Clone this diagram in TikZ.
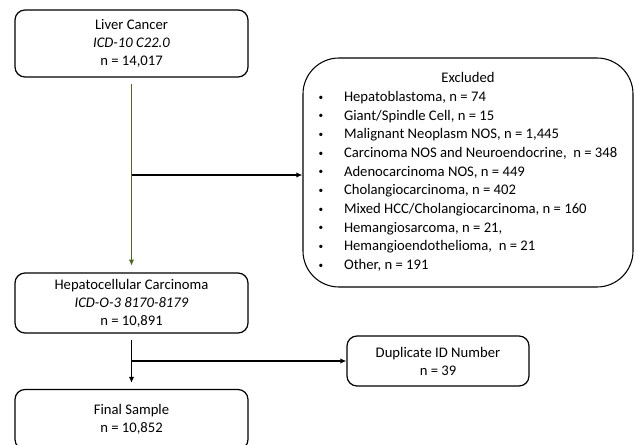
\documentclass[tikz,border=0pt]{standalone}
\usepackage{fontspec}
\setmainfont{Carlito}
\usetikzlibrary{arrows.meta,positioning}
\definecolor{flowGreen}{HTML}{4F6228}
\newcommand{\exclitem}{\makebox[19pt][l]{\raisebox{1pt}{\fontsize{7}{7}\selectfont\textbullet}}}

\begin{document}
\begin{tikzpicture}[x=0.75pt, y=-0.75pt,
    box/.style={rectangle, rounded corners=7.5pt, draw=black, line width=0.9pt, fill=white, minimum width=174.75pt, align=center, inner sep=0pt, font=\fontsize{11}{13.5}\selectfont},
    note/.style={rectangle, rounded corners=27pt, draw=black, line width=0.8pt, fill=white, minimum width=247.5pt, minimum height=171.75pt, inner sep=0pt, font=\fontsize{11}{14}\selectfont},
    flow/.style={-{Latex[length=4.5pt, width=4pt]}, line width=1.1pt, draw=black},
    greenflow/.style={flow, draw=flowGreen, line width=1.1pt}
  ]
  \useasboundingbox (0,0) rectangle (635,445);
  % main column
  \node[box, minimum height=50.25pt] (liver) at (131.5,43.5) {Liver Cancer\\\textit{ICD-10 C22.0}\\n = 14,017};
  \node[box, minimum height=45pt] (hcc) at (131.5,303) {Hepatocellular Carcinoma\\\textit{ICD-O-3 8170-8179}\\n = 10,891};
  \node[box, minimum height=45pt] (final) at (131.5,419.5) {Final Sample\\n = 10,852};
  % side boxes
  \node[note] (excl) at (468,172.5) {\begin{tabular}{@{}l@{}}
      \multicolumn{1}{c}{Excluded}\\
      \exclitem Hepatoblastoma, n = 74\\
      \exclitem Giant/Spindle Cell, n = 15\\
      \exclitem Malignant Neoplasm NOS, n = 1,445\\
      \exclitem Carcinoma NOS and Neuroendocrine,\ \ n = 348\\
      \exclitem Adenocarcinoma NOS, n = 449\\
      \exclitem Cholangiocarcinoma, n = 402\\
      \exclitem Mixed HCC/Cholangiocarcinoma, n = 160\\
      \exclitem Hemangiosarcoma, n = 21,\\
      \exclitem Hemangioendothelioma,\ \ n = 21\\
      \exclitem Other, n = 191
    \end{tabular}};
  \node[box, minimum width=136.5pt, minimum height=37.5pt] (dup) at (438,361) {Duplicate ID Number\\n = 39};
  % connectors
  \coordinate (split1) at (131.5,175);
  \coordinate (split2) at (131.5,361);
  \draw[greenflow, shorten <=4.5pt, shorten >=5pt] (liver) -- (hcc);
  \draw[flow] (split1) -- (split1 -| excl.west);
  \draw[flow, shorten <=4.5pt, shorten >=4.5pt] (hcc) -- (final);
  \draw[flow] (split2) -- (dup.west);
\end{tikzpicture}
\end{document}
